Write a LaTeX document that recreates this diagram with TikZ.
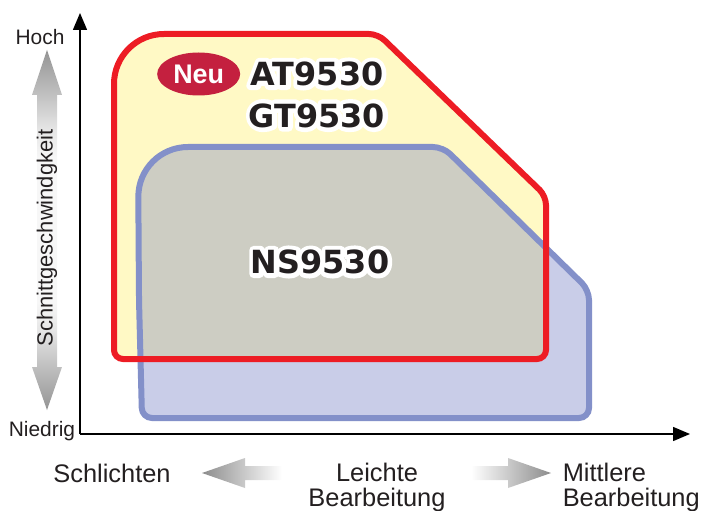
\documentclass[tikz,border=0pt]{standalone}
\usepackage{fontspec}
\setmainfont{Liberation Sans}
\newfontfamily\heavyfont{DejaVu Sans}
\newfontfamily\halofont{DejaVu Sans Bold}[FakeBold=28]
\usepackage{tikz}
\usetikzlibrary{arrows.meta, positioning, shapes.geometric}

\definecolor{atred}{HTML}{ED1C24}
\definecolor{atyellow}{HTML}{FFF9C5}
\definecolor{nsblue}{HTML}{8390C9}
\definecolor{nsfill}{HTML}{C9CDE8}
\definecolor{mixgray}{HTML}{CDCDC3}
\definecolor{neured}{HTML}{C4203F}
\definecolor{ink}{HTML}{231F20}

\pgfdeclareverticalshading{speedshade}{100bp}{color(0bp)=(black!42); color(25bp)=(black!42);
  color(31bp)=(black!25); color(36bp)=(black!10); color(40bp)=(black!3); color(60bp)=(black!3);
  color(64bp)=(black!10); color(69bp)=(black!25); color(75bp)=(black!42); color(100bp)=(black!42)}

\newcommand\atregion{(114,200) [rounded corners=50bp] -- (114,34) -- (250,34)
  [rounded corners=9bp] -- (378,34) -- (546,196) -- (546,359) -- (114,359) -- cycle}
\newcommand\nsregion{(139,300) [rounded corners=50bp] -- (138,147) -- (300,147)
  [rounded corners=10bp] -- (443,147) -- (589,290) -- (589,418) -- (142,418) -- cycle}
\newcommand\outlined[1]{\rlap{\special{pdf:code 1 j 1 J}\color{white}\halofont #1}#1}

\begin{document}
\begin{tikzpicture}[x=1bp, y=-1bp, >={Triangle[length=17bp,width=14bp]},
  line width=1.5bp, text=ink, node distance=16bp,
  small/.style={font=\fontsize{21}{21}\selectfont, inner sep=0pt},
  label/.style={font=\fontsize{25.5}{25.5}\selectfont, inner sep=0pt, align=left},
  typename/.style={font=\heavyfont\bfseries\fontsize{32}{32}\selectfont, inner sep=0pt},
  grayarrow/.style={draw=none}]
  \useasboundingbox (0,0) rectangle (708,511);

  \fill[nsfill] \nsregion;
  \fill[atyellow] \atregion;
  \begin{scope}
    \clip \atregion;
    \fill[mixgray] \nsregion;
  \end{scope}
  \draw[nsblue, line width=6bp] \nsregion;
  \draw[atred, line width=6bp] \atregion;

  \coordinate (origin) at (80,434);
  \coordinate (ytip) at (80,13);
  \coordinate (xtip) at (690,434);
  \draw[->] (origin) -- (ytip);
  \draw[->] (origin) -- (xtip);

  \shade[grayarrow, shading=speedshade]
    (47,50) -- (62,95) -- (57,95) -- (57,367) -- (62,367) -- (47,410)
    -- (32,367) -- (37,367) -- (37,95) -- (32,95) -- cycle;
  \shade[grayarrow, left color=black!45, right color=white]
    (202,473) -- (245,458) -- (245,466) -- (282,466) -- (282,480)
    -- (245,480) -- (245,488) -- cycle;
  \shade[grayarrow, left color=white, right color=black!45]
    (551,473) -- (508,458) -- (508,466) -- (471,466) -- (471,480)
    -- (508,480) -- (508,488) -- cycle;

  \node[small, anchor=base] (hoch) at (40,45) {Hoch};
  \node[small, anchor=base] (niedrig) at (42,436) {Niedrig};
  \node[small, rotate=90, font=\fontsize{22}{22}\selectfont] (speed) at (47,238)
    {Schnittgeschwindgkeit};

  \node[label, anchor=base] (schlichten) at (112,482) {Schlichten};
  \node[label, anchor=north, align=center] (leicht) at (377,462) {Leichte\\Bearbeitung};
  \node[label, anchor=north west] (mittel) at (562,462) {Mittlere\\Bearbeitung};

  \node[typename] (at) at (317,74) {\outlined{AT9530}};
  \node[typename, below=of at] (gt) {\outlined{GT9530}};
  \node[ellipse, fill=neured, minimum width=83bp, minimum height=43bp, inner sep=0pt,
    text=white, font=\bfseries\fontsize{27}{27}\selectfont, left=9bp of at] (neu) {Neu};
  \node[typename] (ns) at (320,262) {\outlined{NS9530}};
\end{tikzpicture}
\end{document}
